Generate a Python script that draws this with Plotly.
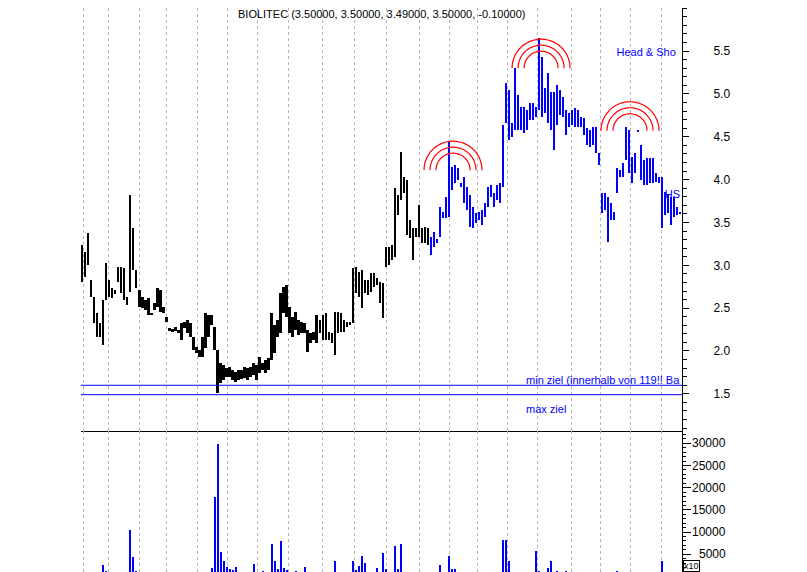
import numpy as np
import plotly.graph_objects as go

FONT = "Liberation Sans"

title_text = "BIOLITEC (3.50000, 3.50000, 3.49000, 3.50000, -0.10000)"

# daily-ish price bars (high / low)
high = [3.24, 3.16, 3.38, 2.83, 2.63, 2.44, 2.33, 2.59, 3.03, 2.83,
        2.74, 2.71, 2.98, 2.98, 2.97, 2.63, 3.82, 3.44, 2.95, 2.71,
        2.63, 2.59, 2.62, 2.44, 2.56, 2.74, 2.71, 2.51, 2.40, 2.27,
        2.26, 2.28, 2.25, 2.33, 2.34, 2.36, 2.33, 2.16, 2.05, 2.01,
        2.16, 2.44, 2.42, 2.42, 2.28, 2.01, 1.86, 1.84, 1.80, 1.81,
        1.78, 1.75, 1.78, 1.78, 1.81, 1.80, 1.81, 1.86, 1.84, 1.93,
        1.86, 1.90, 1.92, 2.44, 2.30, 2.36, 2.68, 2.75, 2.77, 2.51,
        2.40, 2.45, 2.36, 2.34, 2.33, 2.25, 2.21, 2.22, 2.42, 2.36,
        2.42, 2.44, 2.22, 2.21, 2.45, 2.45, 2.44, 2.36, 2.34, 2.34,
        2.97, 2.98, 2.92, 2.95, 2.83, 2.83, 2.91, 2.91, 2.85, 2.80,
        2.79, 3.21, 3.21, 3.24, 3.90, 3.82, 4.32, 4.03, 4.00, 3.53,
        3.44, 3.44, 3.70, 3.44, 3.45, 3.44, 3.33, 3.39, 3.31, 3.68,
        3.62, 3.80, 4.44, 4.15, 4.17, 4.14, 3.96, 4.03, 3.91, 3.82,
        3.68, 3.61, 3.62, 3.65, 3.73, 3.91, 3.94, 3.84, 3.94, 3.96,
        4.64, 5.13, 5.05, 4.66, 5.30, 4.99, 4.85, 4.85, 4.81, 4.89,
        4.89, 4.85, 5.65, 5.43, 5.07, 5.24, 5.02, 5.02, 5.10, 5.05,
        4.96, 4.81, 4.78, 4.81, 4.84, 4.81, 4.73, 4.72, 4.60, 4.58,
        4.61, 4.61, 4.31, 3.84, 3.84, 3.80, 3.73, 3.62, 4.14, 4.11,
        4.19, 4.61, 4.58, 4.26, 4.31, 4.57, 4.40, 4.23, 4.25, 4.25,
        4.25, 4.08, 4.03, 4.03, 3.86, 3.82, 3.80, 3.80, 3.68, 3.62]

low = [2.80, 2.86, 3.00, 2.63, 2.33, 2.16, 2.16, 2.07, 2.59, 2.63,
       2.62, 2.67, 2.80, 2.68, 2.59, 2.54, 2.69, 2.95, 2.74, 2.51,
       2.50, 2.48, 2.42, 2.42, 2.48, 2.51, 2.45, 2.44, 2.34, 2.23,
       2.22, 2.23, 2.21, 2.13, 2.27, 2.21, 2.16, 2.01, 1.98, 1.93,
       1.93, 2.04, 2.16, 2.30, 2.01, 1.51, 1.63, 1.66, 1.70, 1.70,
       1.66, 1.64, 1.66, 1.67, 1.68, 1.66, 1.70, 1.72, 1.66, 1.74,
       1.78, 1.74, 1.78, 1.90, 1.98, 2.16, 2.21, 2.44, 2.40, 2.21,
       2.16, 2.25, 2.19, 2.21, 2.21, 1.99, 2.09, 2.13, 2.09, 2.21,
       2.13, 2.13, 2.13, 2.09, 1.95, 2.21, 2.22, 2.22, 2.28, 2.30,
       2.33, 2.68, 2.63, 2.50, 2.68, 2.65, 2.69, 2.75, 2.77, 2.56,
       2.39, 2.98, 3.00, 3.06, 3.10, 3.59, 3.76, 3.84, 3.35, 3.32,
       3.06, 3.33, 3.33, 3.26, 3.26, 3.24, 3.12, 3.21, 3.26, 3.33,
       3.55, 3.55, 3.56, 3.88, 3.96, 4.00, 3.91, 3.73, 3.65, 3.45,
       3.44, 3.49, 3.53, 3.47, 3.56, 3.68, 3.80, 3.68, 3.76, 3.73,
       3.91, 4.66, 4.46, 4.50, 4.58, 4.58, 4.58, 4.54, 4.58, 4.70,
       4.70, 4.73, 4.81, 4.73, 4.78, 4.66, 4.58, 4.35, 4.64, 4.75,
       4.73, 4.52, 4.61, 4.64, 4.61, 4.61, 4.61, 4.52, 4.40, 4.38,
       4.40, 4.31, 4.17, 3.61, 3.65, 3.27, 3.53, 3.53, 3.84, 4.03,
       4.03, 4.23, 4.08, 3.96, 4.08, 4.56, 4.00, 3.94, 3.94, 3.96,
       3.96, 3.97, 3.96, 3.44, 3.59, 3.61, 3.47, 3.56, 3.59, 3.61]

blue_from = 116  # bars from here on are drawn blue (pattern section)

# volume (only the bars that are visible above the cut-off)
vol_bar = [7, 8, 16, 17, 18, 43, 44, 45, 46, 47, 48, 49, 50, 51, 52, 57, 58, 60,
           63, 64, 65, 66, 67, 68, 69, 71, 74, 78, 84, 86, 90, 91, 92, 93, 94, 95,
           97, 98, 99, 100, 101, 104, 105, 106, 107, 108, 119, 122, 123, 124,
           140, 141, 142, 144, 145, 149, 151, 152, 155, 156, 157, 158, 161, 178,
           181, 193]
vol_value = [2500, 1200, 10500, 4300, 1200, 2000, 18000, 29800, 5600, 3600, 2200,
             1800, 1500, 2200, 1000, 2900, 1000, 1200, 7400, 3400, 1800, 8100, 2000,
             1500, 1000, 1200, 2200, 900, 3600, 800, 3400, 1500, 2400, 4700, 3000,
             900, 900, 2000, 1000, 5400, 1800, 6900, 1600, 7400, 1000, 800, 2700,
             4700, 1800, 1800, 8300, 8300, 3400, 1000, 1000, 900, 5800, 1300, 2000,
             3400, 900, 1200, 1200, 1200, 900, 3600]

# month separators (bar positions)
month_lines = [0.2, 8.8, 19.1, 28.1, 38.4, 48.4, 58.4, 68.7, 80.0, 90.4,
               101.0, 112.0, 122.0, 131.3, 141.3, 151.3, 162.6, 172.5, 182.5, 192.8]

price_ticks = [1.5, 2.0, 2.5, 3.0, 3.5, 4.0, 4.5, 5.0, 5.5]
vol_ticks = [5000, 10000, 15000, 20000, 25000, 30000]

min_ziel = 1.60
max_ziel = 1.49

# head & shoulders markers: arc centres (bar position, price)
hs_x = [123.3, 152.6, 182.2]
hs_y = [4.11, 5.30, 4.57]

labels_text = ["Head & Sho", "min ziel (innerhalb von 119!! Ba", "max ziel", "HS"]
labels_x = [177.7, 147.6, 147.6, 193.8]
labels_y = [5.48, 1.645, 1.31, 3.82]

# ---------------------------------------------------------------------------
n = len(high)
xs = list(range(n))
colors = ["#000000" if i < blue_from else "#0000ff" for i in xs]
rng = [h - l for h, l in zip(high, low)]

fig = go.Figure()
fig.add_trace(go.Bar(x=xs, y=rng, base=low, width=0.6,
                     marker=dict(color=colors, line=dict(width=0)),
                     xaxis="x", yaxis="y", hoverinfo="skip", showlegend=False))
fig.add_trace(go.Bar(x=vol_bar, y=vol_value, width=0.45,
                     marker=dict(color="#0000ff", line=dict(width=0)),
                     xaxis="x2", yaxis="y2", hoverinfo="skip", showlegend=False))
fig.add_trace(go.Scatter(x=labels_x, y=labels_y, mode="text", text=labels_text,
                         textposition="middle right", cliponaxis=True,
                         textfont=dict(family=FONT, size=11, color="#0000ff"),
                         xaxis="x", yaxis="y", hoverinfo="skip", showlegend=False))

shapes = []
for yv in (min_ziel, max_ziel):
    shapes.append(dict(type="line", xref="paper", x0=0, x1=1, yref="y", y0=yv, y1=yv,
                       line=dict(color="#0000ff", width=1)))

theta = np.linspace(0, np.pi, 48)
for cx, cy in zip(hs_x, hs_y):
    for r in (17, 23, 29):
        pts = ["{:.2f},{:.2f}".format(r * np.cos(t), r * np.sin(t)) for t in theta]
        path = "M " + " L ".join(pts)
        shapes.append(dict(type="path", xref="x", yref="y", xsizemode="pixel",
                           ysizemode="pixel", xanchor=cx, yanchor=cy, path=path,
                           line=dict(color="#ff0000", width=1.2)))

annotations = [dict(text=title_text, xref="paper", yref="paper", x=0.5, y=1,
                    yanchor="top", yshift=2, showarrow=False,
                    font=dict(family=FONT, size=11, color="#000000"))]
for v in vol_ticks:
    annotations.append(dict(text=str(v), xref="paper", yref="y2", x=1, y=v,
                            xanchor="right", xshift=46, showarrow=False,
                            font=dict(family=FONT, size=12, color="#000000")))
annotations.append(dict(text="x10", xref="paper", yref="paper", x=1, y=0, xanchor="left",
                        yanchor="bottom", xshift=1, yshift=0, showarrow=False,
                        bordercolor="#000000", borderwidth=1, borderpad=0,
                        font=dict(family=FONT, size=9, color="#000000")))

# page body has an 8px margin: the figure is placed so the plot sits where the
# reference puts it
split = 141 / 564
grid = dict(tickvals=month_lines, showticklabels=False, ticks="", showgrid=True,
            gridcolor="#b8b8b8", gridwidth=1, griddash="3px,3px", zeroline=False)

fig.update_layout(
    width=799, height=564,
    margin=dict(l=73, r=125, t=0, b=0),
    paper_bgcolor="#ffffff", plot_bgcolor="#ffffff",
    bargap=0, barmode="overlay",
    xaxis=dict(domain=[0, 1], range=[-0.5, 199.5], anchor="y",
               showline=True, linecolor="#000000", linewidth=1.2, **grid),
    xaxis2=dict(domain=[0, 1], range=[-0.5, 199.5], anchor="y2", matches="x",
                showline=False, **grid),
    yaxis=dict(domain=[split, 1], range=[1.0664, 6.0024], side="right", anchor="x",
               tickvals=price_ticks, ticktext=["{:.1f}".format(v) for v in price_ticks],
               showticklabels=True, ticklabelstandoff=22,
               tickfont=dict(family=FONT, size=12, color="#000000"),
               ticks="outside", ticklen=6,
               tickcolor="#000000", showline=True, linecolor="#000000", linewidth=1,
               showgrid=False, zeroline=False,
               minor=dict(dtick=0.1, tick0=0, ticks="outside", ticklen=4,
                          tickcolor="#000000", showgrid=False)),
    yaxis2=dict(domain=[0, split], range=[1013, 32770], side="right", anchor="x2",
                tickvals=vol_ticks, showticklabels=False, ticks="outside", ticklen=8,
                tickcolor="#000000", showline=True, linecolor="#000000", linewidth=1,
                showgrid=False, zeroline=False,
                minor=dict(dtick=1000, tick0=0, ticks="outside", ticklen=3,
                           tickcolor="#000000", showgrid=False)),
    shapes=shapes,
    annotations=annotations,
    font=dict(family=FONT),
)

fig.write_html("out.html", config={"displayModeBar": False})
